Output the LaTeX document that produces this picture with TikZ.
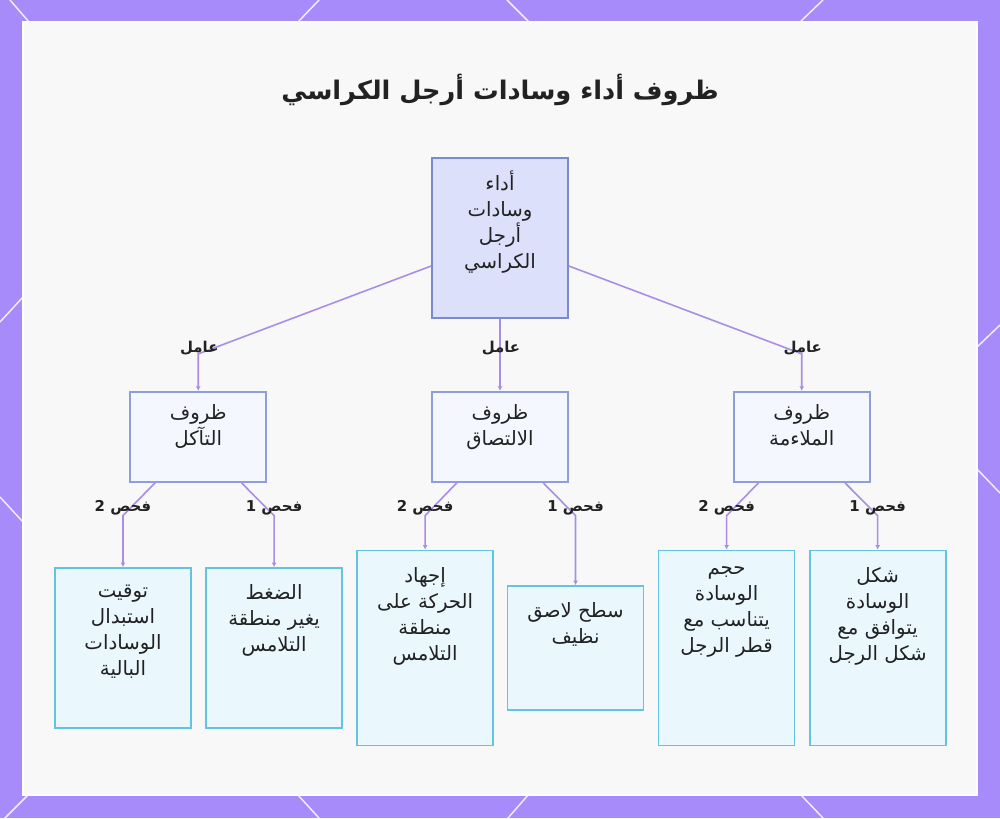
\documentclass[tikz,border=0pt]{standalone}
\usepackage{fontspec}
\newfontfamily\arabicfont[Script=Arabic]{DejaVu Sans}
\TeXXeTstate=1
\usetikzlibrary{positioning,arrows.meta,calc}
\definecolor{bgpurple}{HTML}{A78BFA}
\definecolor{panelbg}{HTML}{F8F8F8}
\definecolor{edgec}{HTML}{A98EE6}
\definecolor{rootfill}{HTML}{DDE0FB}
\definecolor{rootline}{HTML}{7B89CE}
\definecolor{catfill}{HTML}{F5F7FF}
\definecolor{catline}{HTML}{8E9EDC}
\definecolor{leaffill}{HTML}{EAF8FE}
\definecolor{leafline}{HTML}{64C3E0}
\definecolor{ink}{HTML}{222222}
\tikzset{
  box/.style={draw,line width=1.3pt,inner sep=0pt,minimum width=102pt},
  rootbox/.style={box,draw=rootline,fill=rootfill,minimum height=120pt},
  catbox/.style={box,draw=catline,fill=catfill,minimum height=67.5pt},
  leafbox/.style={box,draw=leafline,fill=leaffill},
  txt/.style={font=\arabicfont\fontsize{14.8}{19.5}\selectfont,align=center,text=ink},
  intxt/.style={txt,anchor=north,yshift=-7pt},
  lftxt/.style={txt,anchor=north,yshift=-9.5pt},
  lbl/.style={font=\arabicfont\bfseries\fontsize{11.2}{13}\selectfont,text=ink,inner sep=1pt},
  fl/.style={draw=edgec,line width=1.2pt,-{Latex[length=1.2mm,width=1.3mm]}},
  hexln/.style={draw=white,line width=1.1pt,opacity=0.85},
}
\begin{document}
\begin{tikzpicture}[x=0.75pt,y=-0.75pt]
\useasboundingbox (0,0) rectangle (1000,818);
% backdrop
\fill[bgpurple] (0,0) rectangle (1000,818);
\draw[hexln] (10,0) -- (29,22) (319,0) -- (298,22) (507,0) -- (529,22) (823,0) -- (800,22);
\draw[hexln] (5,818) -- (29,794) (319,818) -- (297,794) (508,818) -- (529,794) (823,818) -- (800,794);
\draw[hexln] (0,322) -- (23,297) (0,497) -- (23,522);
\draw[hexln] (1000,325) -- (976,348) (1000,493) -- (976,468);
\draw[fill=panelbg,draw=white,line width=1.5pt] (23,22) rectangle (977,795);
% title
\node[font=\arabicfont\bfseries\fontsize{19.2}{23}\selectfont,text=ink] (title) at (500,90)
  {\beginR ظروف أداء وسادات أرجل الكراسي\endR};
% root
\node[rootbox,label={[intxt]north:\beginR أداء\endR\\\beginR وسادات\endR\\\beginR أرجل\endR\\\beginR الكراسي\endR}] (root) at (500,238) {};
% factors
\node[catbox,below=54pt of root,label={[intxt]north:\beginR ظروف\endR\\\beginR الالتصاق\endR}] (cat2) {};
\node[catbox,left=123pt of cat2,label={[intxt]north:\beginR ظروف\endR\\\beginR التآكل\endR}] (cat1) {};
\node[catbox,right=123pt of cat2,label={[intxt]north:\beginR ظروف\endR\\\beginR الملاءمة\endR}] (cat3) {};
% checks
\node[leafbox,minimum height=120pt,label={[lftxt]north:\beginR توقيت\endR\\\beginR استبدال\endR\\\beginR الوسادات\endR\\\beginR البالية\endR}] (leaf1) at (123,648) {};
\node[leafbox,minimum height=120pt,right=10pt of leaf1,label={[lftxt]north:\beginR الضغط\endR\\\beginR يغير منطقة\endR\\\beginR التلامس\endR}] (leaf2) {};
\node[leafbox,minimum height=146.25pt,right=10pt of leaf2,label={[lftxt]north:\beginR إجهاد\endR\\\beginR الحركة على\endR\\\beginR منطقة\endR\\\beginR التلامس\endR}] (leaf3) {};
\node[leafbox,minimum height=93pt,right=9.5pt of leaf3,label={[lftxt]north:\beginR سطح لاصق\endR\\\beginR نظيف\endR}] (leaf4) {};
\node[leafbox,minimum height=146.25pt,right=10pt of leaf4,label={[lftxt]north:\beginR حجم\endR\\\beginR الوسادة\endR\\\beginR يتناسب مع\endR\\\beginR قطر الرجل\endR}] (leaf5) {};
\node[leafbox,minimum height=146.25pt,right=10pt of leaf5,label={[lftxt]north:\beginR شكل\endR\\\beginR الوسادة\endR\\\beginR يتوافق مع\endR\\\beginR شكل الرجل\endR}] (leaf6) {};
% root -> factors
\coordinate (k1) at ($(cat1.north)+(0,-37)$);
\coordinate (k2) at ($(cat2.north)+(0,-37)$);
\coordinate (k3) at ($(cat3.north)+(0,-37)$);
\draw[fl] ($(root.west)+(0,28)$) -- (k1) -- (cat1.north);
\draw[fl] (root.south) -- (cat2.north);
\draw[fl] ($(root.east)+(0,28)$) -- (k3) -- (cat3.north);
\foreach \k in {k1,k2,k3}
  \node[lbl] at ($(\k)+(1,-6)$) {\beginR عامل\endR};
% factors -> checks
\foreach \c/\l/\r/\i in {cat1/leaf1/leaf2/1,cat2/leaf3/leaf4/2,cat3/leaf5/leaf6/3}{
  \coordinate (t\i) at ($(\c.south)+(0,33)$);
  \draw[fl] ($(\c.south)+(-43,0)$) -- (\l.north |- t\i) -- (\l.north);
  \draw[fl] ($(\c.south)+(43,0)$) -- (\r.north |- t\i) -- (\r.north);
  \node[lbl] at ($(\l.north |- t\i)+(0,-8)$) {\beginR فحص 2\endR};
  \node[lbl] at ($(\r.north |- t\i)+(0,-8)$) {\beginR فحص 1\endR};
}
\end{tikzpicture}
\end{document}
